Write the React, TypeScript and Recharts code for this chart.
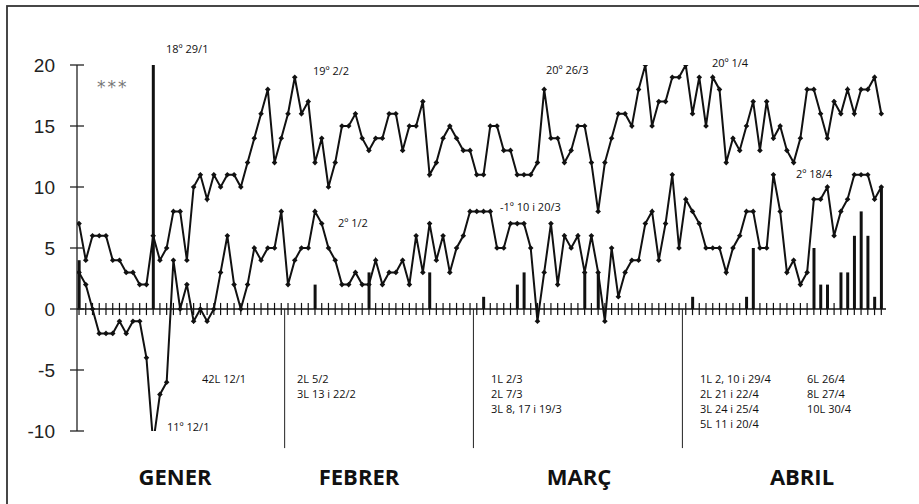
import React from 'react'
import { ComposedChart, Line, Bar, XAxis, YAxis, ReferenceLine } from 'recharts'

// temperatures (ºC) and rain (L) per day, gener-abril
const monthNames = ['GENER', 'FEBRER', 'MARÇ', 'ABRIL']
const monthLengths = [31, 28, 31, 30]

const tmaxGener = [7, 4, 6, 6, 6, 4, 4, 3, 3, 2, 2, 6, 4, 5, 8, 8, 4, 10, 11, 9, 11, 10, 11, 11, 10, 12, 14, 16, 18, 12, 14]
const tmaxFebrer = [16, 19, 16, 17, 12, 14, 10, 12, 15, 15, 16, 14, 13, 14, 14, 16, 16, 13, 15, 15, 17, 11, 12, 14, 15, 14, 13, 13]
const tmaxMarc = [11, 11, 15, 15, 13, 13, 11, 11, 11, 12, 18, 14, 14, 12, 13, 15, 15, 12, 8, 12, 14, 16, 16, 15, 18, 20, 15, 17, 17, 19, 19]
const tmaxAbril = [20, 16, 19, 15, 19, 18, 12, 14, 13, 15, 17, 13, 17, 14, 15, 13, 12, 14, 18, 18, 16, 14, 17, 16, 18, 16, 18, 18, 19, 16]

const tminGener = [3, 2, 0, -2, -2, -2, -1, -2, -1, -1, -4, -11, -7, -6, 4, 0, 2, -1, 0, -1, 0, 3, 6, 2, 0, 2, 5, 4, 5, 5, 8]
const tminFebrer = [2, 4, 5, 5, 8, 7, 5, 4, 2, 2, 3, 2, 2, 4, 2, 3, 3, 4, 2, 6, 3, 7, 4, 6, 3, 5, 6, 8]
const tminMarc = [8, 8, 8, 5, 5, 7, 7, 7, 5, -1, 3, 7, 2, 6, 5, 6, 3, 6, 3, -1, 5, 1, 3, 4, 4, 7, 8, 4, 7, 11, 5]
const tminAbril = [9, 8, 7, 5, 5, 5, 3, 5, 6, 8, 8, 5, 5, 11, 8, 3, 4, 2, 3, 9, 9, 10, 6, 8, 9, 11, 11, 11, 9, 10]

// day of the period (1 = 1/1) and litres
const precipDays = [1, 12, 36, 44, 53, 61, 66, 67, 76, 78, 92, 100, 101, 110, 111, 112, 114, 115, 116, 117, 118, 119, 120]
const precipLitres = [4, 42, 2, 3, 3, 1, 2, 3, 3, 3, 1, 1, 5, 5, 2, 2, 3, 3, 6, 8, 6, 1, 10]

const yTicks = [-10, -5, 0, 5, 10, 15, 20]

const tmax = [...tmaxGener, ...tmaxFebrer, ...tmaxMarc, ...tmaxAbril]
const tmin = [...tminGener, ...tminFebrer, ...tminMarc, ...tminAbril]

const data = tmax.map((v, i) => {
  const day = i + 1
  const p = precipDays.indexOf(day)
  return { day, tmax: v, tmin: tmin[i], precip: p >= 0 ? precipLitres[p] : null }
})

const monthEnds: number[] = []
monthLengths.reduce((acc, n) => {
  monthEnds.push(acc + n + 0.5)
  return acc + n
}, 0)

const notes = [
  { t: '18º 29/1', x: 166, y: 53 },
  { t: '19º 2/2', x: 313, y: 75 },
  { t: '2º 1/2', x: 338, y: 227 },
  { t: '-1º 10 i 20/3', x: 500, y: 211 },
  { t: '20º 26/3', x: 546, y: 74 },
  { t: '20º 1/4', x: 712, y: 67 },
  { t: '2º 18/4', x: 796, y: 178 },
  { t: '42L 12/1', x: 202, y: 383 },
  { t: '11º 12/1', x: 167, y: 431 },
  { t: '2L 5/2', x: 297, y: 383 },
  { t: '3L 13 i 22/2', x: 297, y: 398 },
  { t: '1L 2/3', x: 491, y: 383 },
  { t: '2L 7/3', x: 491, y: 398 },
  { t: '3L 8, 17 i 19/3', x: 491, y: 413 },
  { t: '1L 2, 10 i 29/4', x: 700, y: 383 },
  { t: '2L 21 i 22/4', x: 700, y: 398 },
  { t: '3L 24 i 25/4', x: 700, y: 413 },
  { t: '5L 11 i 20/4', x: 700, y: 428 },
  { t: '6L 26/4', x: 807, y: 383 },
  { t: '8L 27/4', x: 807, y: 398 },
  { t: '10L 30/4', x: 807, y: 413 },
]
const monthLabelX = [175, 359, 579, 802]

function Diamond(props: any) {
  const { cx, cy } = props
  if (cx == null || cy == null) return <g key={props.key} />
  const r = 2.8
  return (
    <path
      key={props.key}
      d={`M${cx},${cy - r}L${cx + r},${cy}L${cx},${cy + r}L${cx - r},${cy}Z`}
      fill="#111"
    />
  )
}

function YTick({ x, y, payload }: any) {
  return (
    <g>
      <line x1={x - 7} x2={x + 7} y1={y} y2={y} stroke="#222" strokeWidth={1.3} />
      <text
        x={x - 22}
        y={y}
        dy="0.36em"
        textAnchor="end"
        fontFamily="Liberation Sans, Arial, sans-serif"
        fontSize={19}
        fill="#222"
      >
        {payload.value}
      </text>
    </g>
  )
}

export default function App() {
  return (
    <div style={{ position: 'absolute', left: 0, top: 0, width: 919, height: 504, background: '#fff' }}>
      <ComposedChart
        width={919}
        height={504}
        data={data}
        margin={{ top: 65, right: 33, bottom: 73, left: 0 }}
      >
        <XAxis type="number" dataKey="day" domain={[0.7, 120.7]} allowDataOverflow hide />
        <YAxis
          width={77}
          domain={[-10, 20]}
          ticks={yTicks}
          interval={0}
          allowDataOverflow
          tickSize={0}
          tickMargin={0}
          tickLine={false}
          axisLine={{ stroke: '#222', strokeWidth: 1.3 }}
          tick={<YTick />}
        />
        <ReferenceLine y={0} stroke="#111" strokeWidth={1.3} />
        {data.map((d) => (
          <ReferenceLine
            key={'t' + d.day}
            segment={[{ x: d.day, y: -0.5 }, { x: d.day, y: 0.5 }]}
            stroke="#111"
            strokeWidth={1.2}
          />
        ))}
        {monthEnds.slice(0, 3).map((m) => (
          <ReferenceLine
            key={'m' + m}
            segment={[{ x: m, y: 0 }, { x: m, y: -11.4 }]}
            stroke="#222"
            strokeWidth={1}
            ifOverflow="visible"
          />
        ))}
        <Bar dataKey="precip" barSize={3} fill="#111" isAnimationActive={false} />
        <Line
          type="linear"
          dataKey="tmax"
          stroke="#111"
          strokeWidth={2}
          dot={Diamond}
          activeDot={false}
          isAnimationActive={false}
        />
        <Line
          type="linear"
          dataKey="tmin"
          stroke="#111"
          strokeWidth={2}
          dot={Diamond}
          activeDot={false}
          isAnimationActive={false}
        />
      </ComposedChart>
      <svg
        width={919}
        height={504}
        style={{ position: 'absolute', left: 0, top: 0, pointerEvents: 'none' }}
      >
        <rect x={7} y={6} width={1000} height={1000} fill="none" stroke="#333" strokeWidth={1.8} />
        <text x={97} y={93} fontFamily="DejaVu Sans, sans-serif" fontSize={17} fill="#777" letterSpacing={2}>
          ***
        </text>
        {notes.map((n) => (
          <text
            key={n.t}
            x={n.x}
            y={n.y}
            fontFamily="Open Sans, sans-serif"
            fontSize={11}
            fill="#111"
          >
            {n.t}
          </text>
        ))}
        {monthNames.map((m, i) => (
          <text
            key={m}
            x={monthLabelX[i]}
            y={485}
            textAnchor="middle"
            fontFamily="Open Sans, sans-serif"
            fontWeight="bold"
            fontSize={22}
            fill="#111"
          >
            {m}
          </text>
        ))}
      </svg>
    </div>
  )
}
